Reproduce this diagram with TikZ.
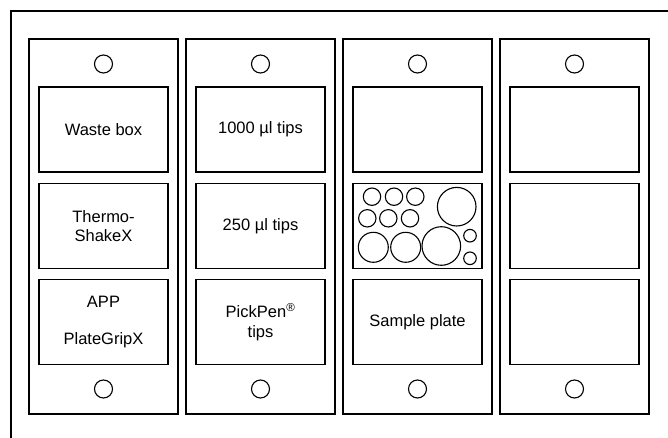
\documentclass[tikz,border=0pt]{standalone}
\usepackage{fontspec}
\setmainfont{Liberation Sans}
\begin{document}
\begin{tikzpicture}[x=1pt,y=-1pt,
  line width=1.1pt,
  panel/.style={draw,rectangle,inner sep=0pt,outer sep=0pt,minimum width=149pt,minimum height=375pt},
  slot/.style={draw,rectangle,inner sep=0pt,outer sep=0pt,minimum width=129pt,minimum height=85pt,
     align=center,font=\fontsize{16.5}{19.7}\selectfont},
  hole/.style={draw,circle,inner sep=0pt,outer sep=0pt,minimum size=18pt},
  well/.style={line width=1.1pt}]
\useasboundingbox (0,0) rectangle (668,438);
% outer frame (extends beyond the picture)
\coordinate (fbl) at (11,438);
\coordinate (ftl) at (11,11);
\coordinate (ftr) at (668,11);
\draw (fbl) -- (ftl) -- (ftr);
% panels
\foreach \i/\x in {1/103.5,2/260.5,3/417.5,4/574.5}{
  \node[panel] (p\i) at (\x,226.5) {};
  \node[hole] (ht\i) at (\x,64) {};
  \node[hole] (hb\i) at (\x,389) {};
}
% column 1
\node[slot] (b11) at (103.5,129.5) {Waste box};
\node[slot] (b12) at (103.5,226) {Thermo-\\ShakeX};
\node[slot] (b13) at (103.5,322) {APP\\[17pt]PlateGripX};
% column 2
\node[slot] (b21) at (260.5,129.5) {1000 µl tips};
\node[slot] (b22) at (260.5,226) {250 µl tips};
\node[slot] (b23) at (260.5,322) {PickPen\textsuperscript{®}\\tips};
% column 3
\node[slot] (b31) at (417.5,129.5) {};
\node[slot] (b32) at (417.5,226) {};
\node[slot] (b33) at (417.5,322) {Sample plate};
% column 4
\node[slot] (b41) at (574.5,129.5) {};
\node[slot] (b42) at (574.5,226) {};
\node[slot] (b43) at (574.5,322) {};
% wells in the plate
\draw[well] (372,196.7) circle[radius=8.7pt];
\draw[well] (394,196.7) circle[radius=8.7pt];
\draw[well] (415.3,196.7) circle[radius=8.7pt];
\draw[well] (367.3,218.3) circle[radius=8.7pt];
\draw[well] (388.3,218.3) circle[radius=8.7pt];
\draw[well] (410,218.3) circle[radius=8.7pt];
\draw[well] (373.3,247.3) circle[radius=15pt];
\draw[well] (405.7,247.3) circle[radius=15pt];
\draw[well] (441.3,246) circle[radius=19.3pt];
\draw[well] (456.7,206.7) circle[radius=19.3pt];
\draw[well] (470,235.7) circle[radius=6.3pt];
\draw[well] (470,258.3) circle[radius=6.3pt];
\end{tikzpicture}
\end{document}
